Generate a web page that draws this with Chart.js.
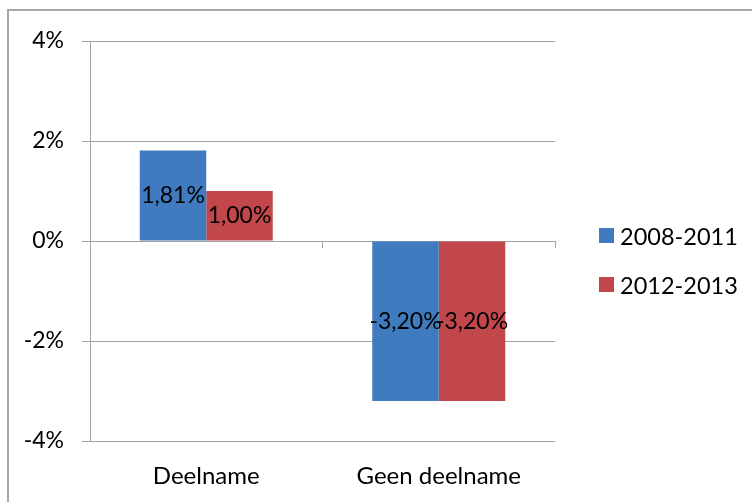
<!DOCTYPE html>
<html>
<head>
<meta charset="utf-8">
<script src="https://cdn.jsdelivr.net/npm/chart.js@4.4.1/dist/chart.umd.min.js"></script>
<style>
  html, body { margin: 0; padding: 0; background: #fff; overflow: hidden; }
  #frame { position: absolute; left: 7px; top: 9px; width: 900px; height: 700px;
           border: 2px solid #a6a6a6; box-sizing: border-box; }
  #wrap { position: absolute; left: 0; top: 0; width: 752px; height: 502px; }
  #legend { position: absolute; left: 599px; top: 0; font-family: Lato, sans-serif;
            font-size: 23.5px; color: #000; }
  .item { position: absolute; left: 0; white-space: nowrap; height: 26px; line-height: 26px; }
  .swatch { position: absolute; left: 0; top: 5px; width: 15px; height: 15px; }
  .label { position: absolute; left: 21px; top: 0; }
</style>
</head>
<body>
<div id="frame"></div>
<div id="wrap"><canvas id="c" width="752" height="502"></canvas></div>
<div id="legend"></div>
<script>
// Categories, series and tick values
const categories = ['Deelname', 'Geen deelname'];
const seriesNames = ['2008-2011', '2012-2013'];
const values2008_2011 = [1.81, -3.20];
const values2012_2013 = [1.00, -3.20];
const yTicks = [-4, -2, 0, 2, 4];

const colors = ['#3F7BBE', '#C1474A'];
const FONT = 'Lato, sans-serif';
const GRID = '#a3a3a3';

// Dutch notation: comma as decimal separator
const pct = (v, d) => v.toFixed(d).replace('.', ',') + '%';

// Value labels centred inside each bar
const barLabels = {
  id: 'barLabels',
  afterDatasetsDraw(chart) {
    const ctx = chart.ctx;
    ctx.save();
    ctx.font = '23px ' + FONT;
    ctx.fillStyle = '#000';
    ctx.textAlign = 'center';
    ctx.textBaseline = 'middle';
    chart.data.datasets.forEach((ds, i) => {
      chart.getDatasetMeta(i).data.forEach((bar, j) => {
        const y = (bar.y + bar.base) / 2;
        ctx.fillText(pct(ds.data[j], 2), bar.x, y);
      });
    });
    ctx.restore();
  }
};

new Chart(document.getElementById('c'), {
  type: 'bar',
  data: {
    labels: categories,
    datasets: [
      { label: seriesNames[0], data: values2008_2011, backgroundColor: colors[0] },
      { label: seriesNames[1], data: values2012_2013, backgroundColor: colors[1] }
    ]
  },
  options: {
    responsive: false,
    animation: false,
    categoryPercentage: 0.572,
    barPercentage: 1.0,
    layout: { padding: { left: 0, top: 41, right: 197, bottom: 0 } },
    plugins: { legend: { display: false }, tooltip: { enabled: false } },
    scales: {
      y: {
        min: -4, max: 4,
        afterBuildTicks: s => { s.ticks = yTicks.map(v => ({ value: v })); },
        afterFit: s => { s.width = 90; },
        ticks: { callback: v => v + '%', font: { family: FONT, size: 23 }, color: '#000', padding: 18 },
        grid: { color: GRID, lineWidth: 1, tickLength: 8 },
        border: { color: GRID }
      },
      x: {
        afterFit: s => { s.height = 61; },
        ticks: { font: { family: FONT, size: 24 }, color: '#000', padding: 21 },
        grid: { display: false, drawTicks: false },
        border: { display: false }
      },
      xZero: {
        type: 'category',
        axis: 'x',
        position: { y: 0 },
        labels: categories,
        offset: true,
        ticks: { display: false },
        grid: { offset: true, drawOnChartArea: false, color: GRID, tickLength: 6 },
        border: { color: GRID }
      }
    }
  },
  plugins: [barLabels]
});

// Legend on the right
const legend = document.getElementById('legend');
const legendTops = [223, 272];
seriesNames.forEach((name, i) => {
  const item = document.createElement('div');
  item.className = 'item';
  item.style.top = legendTops[i] + 'px';
  item.innerHTML = '<span class="swatch" style="background:' + colors[i] + '"></span><span class="label">' + name + '</span>';
  legend.appendChild(item);
});
</script>
</body>
</html>
